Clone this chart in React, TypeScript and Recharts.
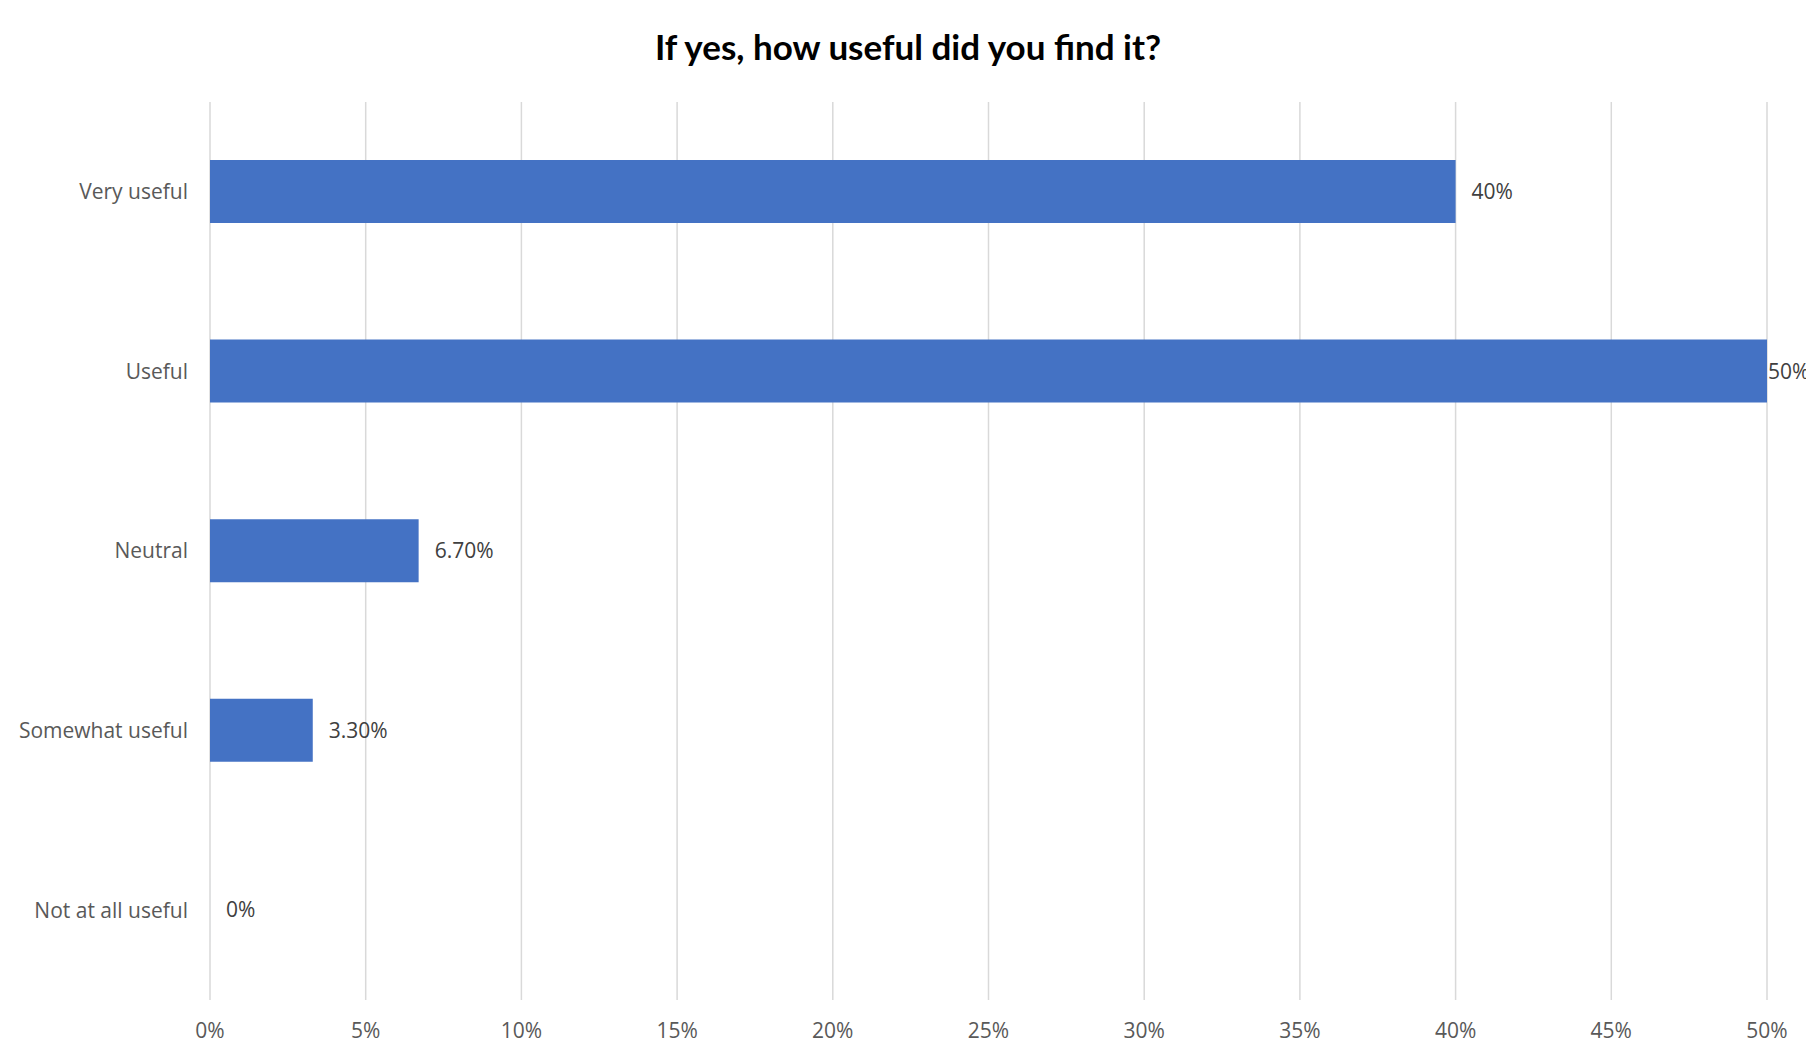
import { BarChart, Bar, XAxis, YAxis, CartesianGrid, LabelList } from "recharts"

const categories = ["Very useful", "Useful", "Neutral", "Somewhat useful", "Not at all useful"]
const shares = [40, 50, 6.7, 3.3, 0]
const shareLabels = ["40%", "50%", "6.70%", "3.30%", "0%"]
const xTicks = [0, 5, 10, 15, 20, 25, 30, 35, 40, 45, 50]

const data = categories.map((name, i) => ({
    name,
    value: shares[i],
    label: shareLabels[i],
}))

const W = 1814
const H = 1061
const FONT = "'Open Sans', 'Noto Sans', sans-serif"

const ValueLabel = (props: any) => {
    const { x, y, width, height, value } = props
    const end = x + width
    const textW = String(value).length * 12
    // Excel squeezes the label against the bar when there's no room
    let lx = end + 16
    if (lx + textW > W - 8) lx = end + 1
    return (
        <text
            x={lx}
            y={y + height / 2}
            dy="0.36em"
            fill="#404040"
            fontSize={21}
            fontFamily={FONT}
        >
            {value}
        </text>
    )
}

export default function App() {
    return (
        <div
            style={{
                position: "relative",
                width: W,
                height: H,
                boxSizing: "border-box",
                border: "1px solid #d9d9d9",
                background: "#fff",
                margin: -8,
            }}
        >
            <div
                style={{
                    position: "absolute",
                    top: 24,
                    left: 0,
                    width: W,
                    textAlign: "center",
                    fontFamily: "Lato, 'Open Sans', sans-serif",
                    fontWeight: 700,
                    fontSize: 35,
                    color: "#000",
                    lineHeight: "42px",
                }}
            >
                If yes, how useful did you find it?
            </div>
            <div style={{ position: "absolute", top: 0, left: 0 }}>
                <BarChart
                    width={W}
                    height={H}
                    data={data}
                    layout="vertical"
                    margin={{ top: 101, right: 48, bottom: 0, left: 0 }}
                    barSize={63}
                >
                    <CartesianGrid horizontal={false} stroke="#d9d9d9" strokeWidth={1.5} />
                    <XAxis
                        type="number"
                        domain={[0, 50]}
                        ticks={xTicks}
                        tickFormatter={(v) => `${v}%`}
                        axisLine={false}
                        tickLine={false}
                        tickSize={0}
                        tickMargin={23}
                        height={62}
                        interval={0}
                        tick={{ fontSize: 21, fill: "#595959", fontFamily: FONT }}
                    />
                    <YAxis
                        type="category"
                        dataKey="name"
                        width={209}
                        axisLine={false}
                        tickLine={false}
                        tickSize={0}
                        tickMargin={22}
                        interval={0}
                        tick={{ fontSize: 21, fill: "#595959", fontFamily: FONT }}
                    />
                    <Bar dataKey="value" fill="#4472C4" minPointSize={0.01} isAnimationActive={false}>
                        <LabelList dataKey="label" content={ValueLabel} />
                    </Bar>
                </BarChart>
            </div>
        </div>
    )
}
